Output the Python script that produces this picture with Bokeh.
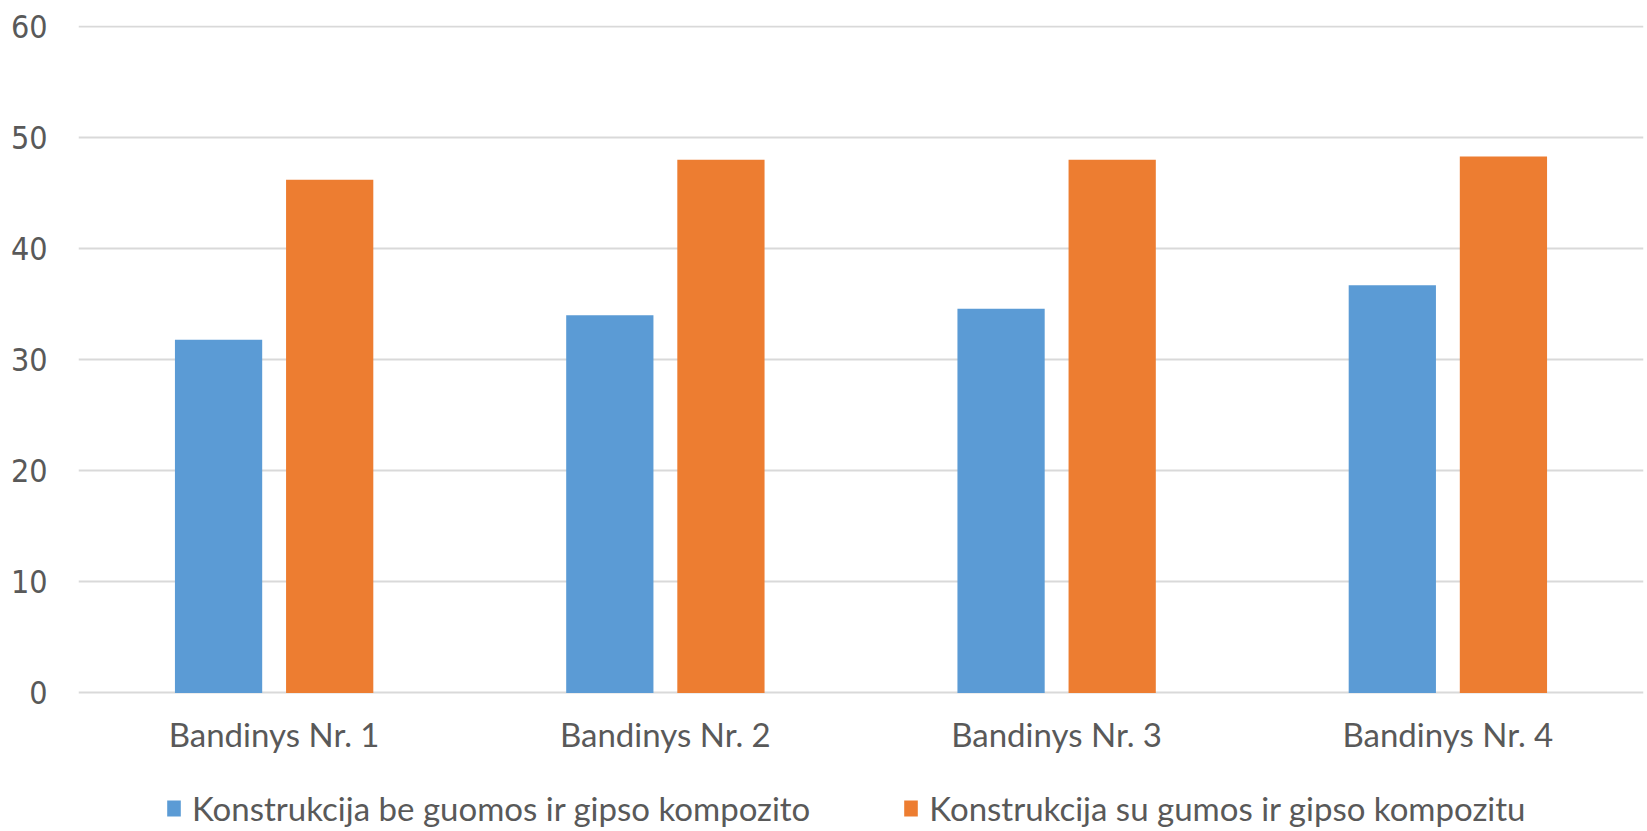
from bokeh.plotting import figure
from bokeh.models import Range1d, FactorRange, FixedTicker, Legend, LegendItem, ColumnDataSource
from bokeh.transform import dodge
from bokeh.embed import file_html
from bokeh.resources import INLINE

categories = ["Bandinys Nr. 1", "Bandinys Nr. 2", "Bandinys Nr. 3", "Bandinys Nr. 4"]
series_names = ["Konstrukcija be guomos ir gipso kompozito", "Konstrukcija su gumos ir gipso kompozitu"]
values_without = [31.8, 34.0, 34.6, 36.7]
values_with = [46.2, 48.0, 48.0, 48.3]
y_ticks = [0, 10, 20, 30, 40, 50, 60]

TXT = "#595959"

src = ColumnDataSource(dict(cat=categories, a=values_without, b=values_with))

p = figure(frame_width=1565, frame_height=806, x_range=FactorRange(*categories),
           y_range=Range1d(-12.47, 60.09), output_backend="svg", toolbar_location=None,
           min_border_left=78, min_border_right=4, min_border_top=25, min_border_bottom=0)
p.outline_line_color = None
p.background_fill_color = "white"

r1 = p.vbar(x=dodge("cat", -0.142, range=p.x_range), top="a", width=0.223, source=src,
            fill_color="#5b9bd5", line_color=None)
r2 = p.vbar(x=dodge("cat", 0.142, range=p.x_range), top="b", width=0.223, source=src,
            fill_color="#ed7d31", line_color=None)

p.xgrid.grid_line_color = None
p.ygrid.grid_line_color = "#d9d9d9"
p.ygrid.grid_line_width = 2
p.yaxis.ticker = FixedTicker(ticks=y_ticks)
p.xaxis.fixed_location = 0

for ax in (p.xaxis[0], p.yaxis[0]):
    ax.axis_line_color = None
    ax.major_tick_line_color = None
    ax.minor_tick_line_color = None
    ax.major_tick_in = 0
    ax.major_tick_out = 0
    ax.major_label_text_color = TXT
p.yaxis.major_label_text_font = "DejaVu Sans Condensed"
p.yaxis.major_label_text_font_size = "32px"
p.xaxis.major_label_text_font = "Lato"
p.xaxis.major_label_text_font_size = "33px"
p.yaxis.major_label_standoff = 31
p.xaxis.major_label_standoff = 21

legend = Legend(items=[LegendItem(label=series_names[0], renderers=[r1]),
                       LegendItem(label=series_names[1], renderers=[r2])],
                orientation="horizontal", location=(87, 3),
                label_text_font="Lato", label_text_font_size="33px", label_text_color=TXT,
                glyph_width=17, glyph_height=20, label_standoff=10, spacing=92,
                border_line_color=None, background_fill_alpha=0, padding=0, margin=0)
p.add_layout(legend, "center")

open("out.html", "w").write(file_html(p, INLINE))
